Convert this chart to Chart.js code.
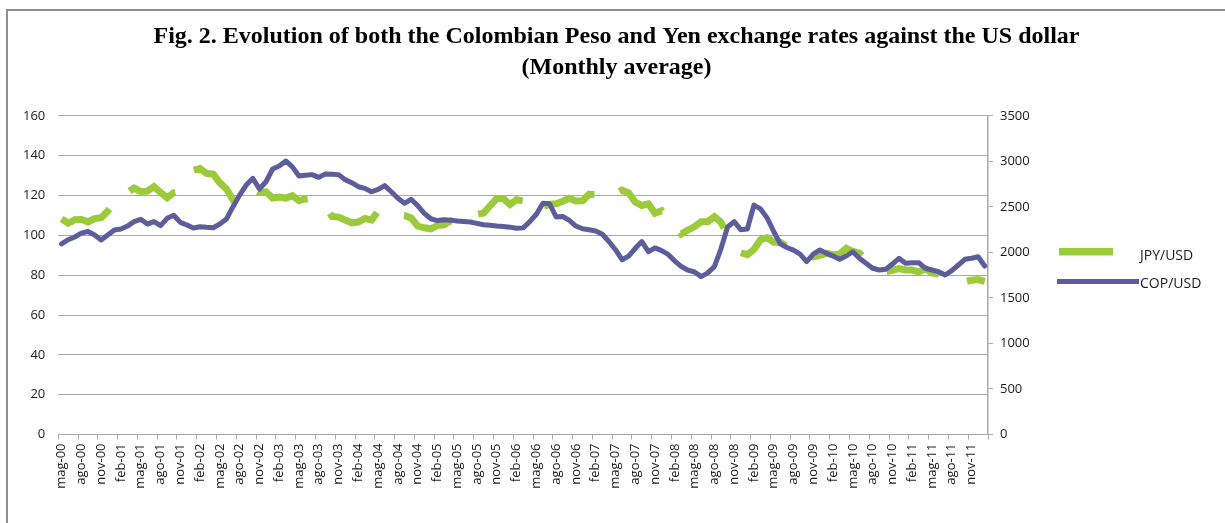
<!DOCTYPE html>
<html>
<head>
<meta charset="utf-8">
<script src="https://cdn.jsdelivr.net/npm/chart.js@4"></script>
<style>
  html, body { margin: 0; padding: 0; background: #fff; }
  #wrap { position: relative; width: 1225px; height: 523px; overflow: hidden; }
  #frame { position: absolute; left: 6px; top: 9px; width: 1300px; height: 600px;
           border-left: 2px solid #8e8e8e; border-top: 2px solid #8e8e8e; pointer-events: none; }
  canvas { position: absolute; left: 0; top: 0; }
</style>
</head>
<body>
<div id="wrap">
  <canvas id="fxChart" width="1225" height="523"></canvas>
  <div id="frame"></div>
</div>
<script>
// Mesi (etichette asse x), da mag-00 a gen-12
const monthNames = ['gen', 'feb', 'mar', 'apr', 'mag', 'giu', 'lug', 'ago', 'set', 'ott', 'nov', 'dic'];
const firstMonth = 4;   // maggio
const firstYear = 2000;
const nMonths = 141;

// JPY per USD, media mensile
const jpyUsd = [
  108.3, 106.1, 107.9, 108.0, 106.8, 108.4, 108.9, 112.2,
  116.7, 116.2, 121.5, 123.8, 122.0, 122.2, 124.5, 121.6, 118.9, 121.4, 122.3, 127.6,
  132.7, 133.6, 131.1, 130.8, 126.4, 123.3, 117.9, 118.9, 119.4, 123.9, 121.6, 121.9,
  118.8, 119.3, 118.7, 119.9, 117.4, 118.3, 118.7, 118.7, 114.8, 109.5, 109.2, 107.7,
  106.3, 106.7, 108.5, 107.7, 112.2, 109.4, 109.4, 110.2, 110.0, 108.8, 104.7, 103.8,
  103.3, 104.9, 105.3, 107.3, 106.6, 108.7, 111.9, 110.6, 111.2, 114.9, 118.5, 118.5,
  115.5, 117.9, 117.3, 117.1, 111.5, 114.5, 115.6, 115.9, 117.2, 118.6, 117.3, 117.4,
  120.6, 120.5, 117.3, 118.8, 120.8, 122.7, 121.4, 116.7, 115.0, 115.8, 111.1, 112.4,
  107.7, 107.1, 100.8, 102.7, 104.4, 106.9, 106.9, 109.4, 106.6, 100.0, 96.8, 91.3,
  90.3, 92.9, 97.8, 98.9, 96.6, 96.6, 94.5, 94.9, 91.4, 90.3, 89.2, 89.9,
  91.1, 90.2, 90.7, 93.5, 92.0, 91.1, 87.7, 85.4, 84.4, 81.8, 82.5, 83.3,
  82.6, 82.6, 81.7, 83.2, 81.1, 80.4, 79.3, 77.0, 76.8, 76.7, 77.5, 77.8,
  76.9
];

// COP per USD, media mensile
const copUsd = [
  2095, 2140, 2170, 2212, 2230, 2192, 2137, 2192,
  2247, 2258, 2290, 2338, 2364, 2312, 2338, 2294, 2375, 2408, 2331, 2302,
  2268, 2283, 2276, 2272, 2312, 2367, 2503, 2631, 2741, 2814, 2697, 2777,
  2917, 2950, 3005, 2940, 2840, 2848, 2855, 2825, 2862, 2860, 2855, 2800,
  2766, 2722, 2704, 2667, 2693, 2735, 2667, 2595, 2540, 2584, 2515, 2430,
  2370, 2350, 2360, 2355, 2345, 2340, 2335, 2320, 2305, 2298, 2290, 2285,
  2278, 2265, 2270, 2338, 2420, 2540, 2535, 2390, 2395, 2353, 2290, 2260,
  2250, 2235, 2200, 2120, 2030, 1920, 1960, 2045, 2120, 2008, 2050, 2020,
  1978, 1905, 1845, 1805, 1785, 1734, 1775, 1844, 2040, 2280, 2338, 2250,
  2258, 2520, 2478, 2380, 2230, 2095, 2055, 2025, 1982, 1899, 1982, 2027,
  1990, 1961, 1925, 1961, 2008, 1936, 1881, 1826, 1807, 1815, 1873, 1936,
  1881, 1888, 1888, 1826, 1807, 1789, 1752, 1800, 1862, 1925, 1936, 1953,
  1851
];

// Assi
const leftTicks = { min: 0, max: 160, step: 20 };
const rightTicks = { min: 0, max: 3500, step: 500 };
const labelEvery = 3;

const titleLines = [
  'Fig. 2. Evolution of both the Colombian Peso and Yen exchange rates against the US dollar',
  '(Monthly average)'
];

const GREEN = '#9bcb3b';
const PURPLE = '#5d5d9b';
const GRID = '#a9a9a9';
const TEXT = '#1a1a1a';
const FONT = "'Open Sans', sans-serif";

// etichette tipo "mag-00"
const labels = [];
for (let k = 0; k < nMonths; k++) {
  const m = (firstMonth + k) % 12;
  const y = firstYear + Math.floor((firstMonth + k) / 12);
  labels.push(monthNames[m] + '-' + String(y % 100).padStart(2, '0'));
}

// legenda a destra, disegnata a mano come in Excel
const sideLegend = {
  id: 'sideLegend',
  afterDraw(chart) {
    const ctx = chart.ctx;
    ctx.save();
    ctx.fillStyle = GREEN;
    ctx.fillRect(1059, 248, 54, 7.5);
    ctx.strokeStyle = PURPLE;
    ctx.lineWidth = 5;
    ctx.beginPath();
    ctx.moveTo(1057, 281.5);
    ctx.lineTo(1139, 281.5);
    ctx.stroke();
    ctx.fillStyle = TEXT;
    ctx.font = "14px 'Open Sans'";
    ctx.textBaseline = 'middle';
    ctx.fillText('JPY/USD', 1140, 256);
    ctx.fillText('COP/USD', 1140, 284);
    ctx.restore();
  }
};

const ctx = document.getElementById('fxChart').getContext('2d');
new Chart(ctx, {
  type: 'line',
  data: {
    labels: labels,
    datasets: [
      {
        label: 'JPY/USD',
        data: jpyUsd,
        yAxisID: 'y',
        borderColor: GREEN,
        borderWidth: 7,
        borderDash: [55, 30],
        borderCapStyle: 'butt',
        pointRadius: 0,
        tension: 0,
        order: 2
      },
      {
        label: 'COP/USD',
        data: copUsd,
        yAxisID: 'y1',
        borderColor: PURPLE,
        borderWidth: 5,
        borderJoinStyle: 'round',
        borderCapStyle: 'round',
        pointRadius: 0,
        tension: 0,
        order: 1
      }
    ]
  },
  options: {
    responsive: false,
    animation: false,
    devicePixelRatio: 1,
    layout: { padding: { left: 8, right: 0, top: 0, bottom: 0 } },
    plugins: {
      legend: { display: false },
      tooltip: { enabled: false },
      title: {
        display: true,
        text: titleLines,
        color: '#000',
        font: { family: "'Liberation Serif', serif", size: 24, weight: 'bold', lineHeight: 1.29 },
        padding: { top: 21.5, bottom: 32.5 }
      }
    },
    scales: {
      x: {
        offset: true,
        afterFit: s => { s.height = 88.5; },
        grid: {
          offset: true,
          drawOnChartArea: false,
          drawTicks: true,
          tickLength: 5,
          tickColor: c => (c.index === undefined || c.index % labelEvery === 0) ? GRID : 'rgba(0,0,0,0)'
        },
        border: { display: true, color: GRID, width: 1 },
        ticks: {
          autoSkip: false,
          minRotation: 90,
          maxRotation: 90,
          padding: 4,
          color: TEXT,
          font: { family: FONT, size: 13 },
          callback: (v, i) => (i % labelEvery === 0 ? labels[i] : '')
        }
      },
      y: {
        position: 'left',
        min: leftTicks.min,
        max: leftTicks.max,
        afterFit: s => { s.width = 50.3; },
        grid: { color: GRID, lineWidth: 1, drawTicks: false },
        border: { display: false },
        ticks: {
          stepSize: leftTicks.step,
          padding: 13,
          color: TEXT,
          font: { family: FONT, size: 13 }
        }
      },
      y1: {
        position: 'right',
        min: rightTicks.min,
        max: rightTicks.max,
        afterFit: s => { s.width = 237; },
        grid: { drawOnChartArea: false, drawTicks: true, tickLength: 5, tickColor: GRID },
        border: { display: true, color: GRID, width: 1.5 },
        ticks: {
          stepSize: rightTicks.step,
          padding: 7,
          color: TEXT,
          font: { family: FONT, size: 13 },
          callback: v => String(v)
        }
      }
    }
  },
  plugins: [sideLegend]
});
</script>
</body>
</html>
